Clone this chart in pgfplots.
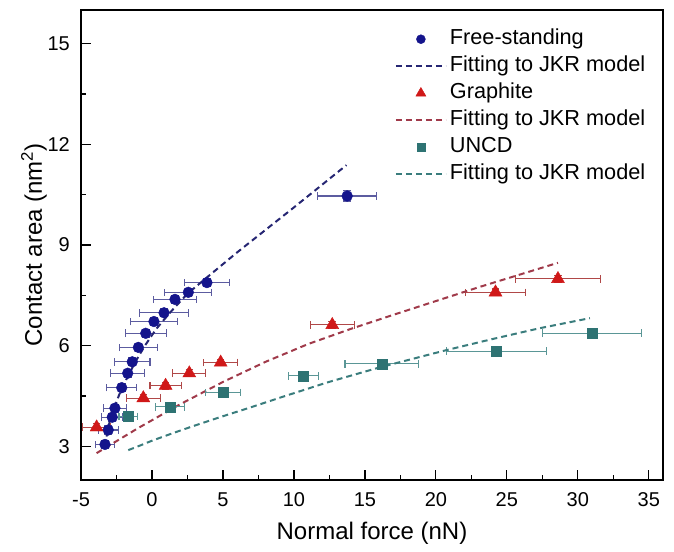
\documentclass[border=0pt]{standalone}
\usepackage{pgfplots}
\pgfplotsset{compat=1.18}
\usepackage{pgfplotstable}
\usepackage{fontspec}
\setmainfont{Liberation Sans}

\definecolor{fsb}{HTML}{14148C}
\definecolor{fse}{HTML}{5C5CA0}
\definecolor{fsl}{HTML}{262673}
\definecolor{grm}{HTML}{D01818}
\definecolor{gre}{HTML}{B04848}
\definecolor{grl}{HTML}{A03A4A}
\definecolor{unm}{HTML}{2E7373}
\definecolor{une}{HTML}{5A9696}
\definecolor{unl}{HTML}{3A7D7D}

\pgfplotsset{
  markleg/.style={legend image code/.code={\draw[##1, mark size=#1] plot coordinates {(25pt,0pt)};}},
  err/.style={error bars/.cd, x dir=both, x explicit, y dir=both, y explicit,
    error bar style={color=#1, line width=1.1pt},
    error mark options={rotate=90, color=#1, mark size=3.8pt, line width=1.1pt}},
  fit/.style={color=#1, line width=2pt, dash pattern=on 6pt off 4pt, mark=none,
    legend image code/.code={\draw[##1] (0pt,0pt) -- (50pt,0pt);}},
}

\pgfplotstableread{
x y ex ey
-3.31 3.06 0.70 0.12
-3.08 3.49 0.70 0.12
-2.80 3.87 0.75 0.12
-2.61 4.14 0.80 0.12
-2.13 4.75 1.05 0.12
-1.71 5.18 1.20 0.12
-1.39 5.52 1.25 0.12
-0.96 5.95 1.35 0.12
-0.44 6.37 1.45 0.12
0.14 6.72 1.65 0.12
0.85 6.98 1.70 0.12
1.62 7.38 1.50 0.12
2.56 7.59 1.65 0.12
3.87 7.88 1.57 0.12
13.75 10.46 2.08 0.15
}\freestanding

\pgfplotstableread{
x y
-3.30 3.00
-3.20 3.30
-3.00 3.70
-2.70 4.10
-2.30 4.55
-1.80 5.00
-1.20 5.50
-0.50 6.00
0.30 6.50
1.30 7.00
2.50 7.55
4.20 8.15
6.00 8.78
8.00 9.45
10.00 10.12
12.00 10.80
13.70 11.38
}\fitfs

\pgfplotstableread{
x y ex ey
-3.90 3.57 1.00 0.10
-0.61 4.44 1.20 0.10
0.96 4.81 1.10 0.10
2.63 5.18 1.17 0.10
4.84 5.50 1.20 0.10
12.70 6.62 1.56 0.10
24.20 7.59 2.10 0.10
28.60 7.99 3.00 0.10
}\graphite

\pgfplotstableread{
x y
-3.90 2.80
-1.00 3.54
2.00 4.26
5.00 4.92
8.00 5.52
11.00 6.05
14.00 6.50
17.00 6.92
20.00 7.33
23.00 7.74
26.00 8.13
28.60 8.47
}\fitgr

\pgfplotstableread{
x y ex ey
-1.67 3.89 0.65 0.10
1.27 4.18 1.00 0.10
5.02 4.61 1.23 0.10
10.65 5.10 1.05 0.10
16.20 5.46 2.60 0.10
24.27 5.84 3.50 0.10
31.00 6.37 3.46 0.10
}\uncd

\pgfplotstableread{
x y
-1.67 2.89
-1.00 3.00
0.00 3.17
1.50 3.40
3.00 3.62
5.00 3.90
7.00 4.17
9.00 4.45
12.30 4.90
16.00 5.35
20.75 5.87
24.00 6.20
27.30 6.52
30.85 6.82
}\fitun

\begin{document}
\begin{tikzpicture}
\begin{axis}[
  scale only axis, width=582pt, height=470pt,
  xmin=-5, xmax=36, ymin=2, ymax=16,
  xtick={-5,0,...,35}, ytick={3,6,...,15},
  minor x tick num=1, minor y tick num=1,
  tick pos=left, tick align=inside,
  major tick length=10pt, minor tick length=5pt,
  every tick/.style={black, line width=1.2pt},
  axis line style={line width=1.8pt},
  /pgf/number format/assume math mode=true,
  tick label style={font=\fontsize{20}{20}\selectfont, inner sep=0pt},
  xticklabel style={yshift=-12.5pt},
  yticklabel style={xshift=-11pt},
  xlabel={Normal force (nN)},
  ylabel={Contact area (nm\textsuperscript{2})},
  label style={font=\fontsize{24}{24}\selectfont, inner sep=0pt},
  xlabel style={at={(axis description cs:0.5,-0.0894)}, anchor=north},
  ylabel style={at={(axis description cs:-0.0584,0.5)}, anchor=south},
  legend style={draw=none, fill=none, at={(0.539,0.967)}, anchor=north west,
    font=\fontsize{21.7}{26}\selectfont, inner sep=0pt, row sep=0pt, column sep=0pt,
    nodes={text height=16pt, text depth=5pt, inner sep=3pt}},
  legend cell align=left,
]
\addplot[only marks, mark=*, mark size=5.4pt, color=fsb, markleg=4.5pt, err=fse]
  table[x=x, y=y, x error=ex, y error=ey] {\freestanding};
\addlegendentry{Free-standing}
\addplot[fit=fsl] table[x=x, y=y] {\fitfs};
\addlegendentry{Fitting to JKR model}
\addplot[only marks, mark=triangle*, mark size=7.5pt, color=grm, markleg=5.8pt, err=gre]
  table[x=x, y=y, x error=ex, y error=ey] {\graphite};
\addlegendentry{Graphite}
\addplot[fit=grl] table[x=x, y=y] {\fitgr};
\addlegendentry{Fitting to JKR model}
\addplot[only marks, mark=square*, mark size=5pt, color=unm, markleg=4pt, err=une]
  table[x=x, y=y, x error=ex, y error=ey] {\uncd};
\addlegendentry{UNCD}
\addplot[fit=unl] table[x=x, y=y] {\fitun};
\addlegendentry{Fitting to JKR model}
\coordinate (SW) at (rel axis cs:0,0);
\coordinate (NE) at (rel axis cs:1,1);
\end{axis}
\pgfresetboundingbox
\path[use as bounding box] ([shift={(-81pt,-71pt)}]SW) rectangle ([shift={(11pt,10pt)}]NE);
\end{tikzpicture}
\end{document}
